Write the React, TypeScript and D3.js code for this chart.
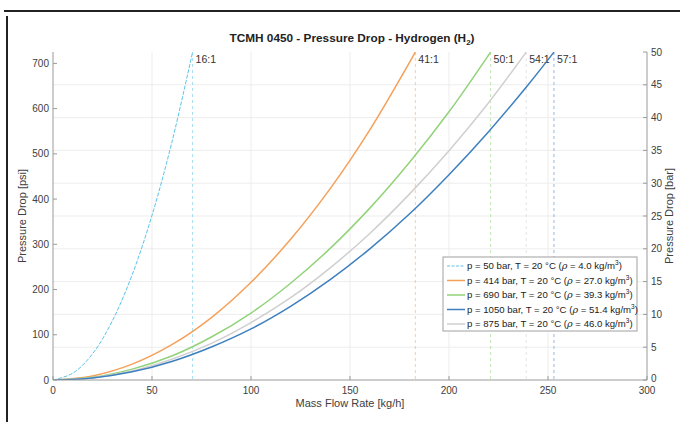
import React from 'react';
import * as d3 from 'd3';

// chart data
const flowTicks = [0, 50, 100, 150, 200, 250, 300];
const psiTicks = [0, 100, 200, 300, 400, 500, 600, 700];
const barTicks = [0, 5, 10, 15, 20, 25, 30, 35, 40, 45, 50];

const seriesNames = [
  'p = 50 bar, T = 20 °C',
  'p = 414 bar, T = 20 °C',
  'p = 690 bar, T = 20 °C',
  'p = 1050 bar, T = 20 °C',
  'p = 875 bar, T = 20 °C',
];
const densities = ['4.0', '27.0', '39.3', '51.4', '46.0'];
const seriesColors = ['#5cc3e8', '#f5a05a', '#92d27a', '#3d7fbf', '#cfcfcf'];
const ratioLabels = ['16:1', '41:1', '50:1', '57:1', '54:1'];
const maxFlows = [70.5, 183, 221, 253, 239];

// [mass flow kg/h, pressure drop psi]
const h2_50: [number, number][] = [[0, 0], [10, 15], [20, 58], [30, 131], [40, 233], [50, 364], [60, 525], [70.5, 725]];
const h2_414: [number, number][] = [[0, 0], [20, 9], [40, 35], [60, 78], [80, 138], [100, 216], [120, 311], [140, 423], [160, 553], [183, 725]];
const h2_690: [number, number][] = [[0, 0], [20, 6], [40, 24], [60, 53], [80, 95], [100, 148], [120, 214], [140, 291], [160, 380], [180, 481], [200, 593], [221, 725]];
const h2_1050: [number, number][] = [[0, 0], [20, 4.5], [40, 18], [60, 41], [80, 73], [100, 113], [120, 163], [140, 222], [160, 290], [180, 367], [200, 454], [220, 549], [240, 653], [253, 725]];
const h2_875: [number, number][] = [[0, 0], [20, 5], [40, 20], [60, 46], [80, 81], [100, 127], [120, 182], [140, 248], [160, 324], [180, 411], [200, 507], [220, 613], [239, 725]];
const seriesData = [h2_50, h2_414, h2_690, h2_1050, h2_875];
const drawOrder = [0, 1, 2, 4, 3];

const W = 680, H = 422;
const L = 53, R = 647, T = 52, B = 380;
const PSI_PER_BAR = 14.5038;

export default function App() {
  const x = d3.scaleLinear().domain([0, 300]).range([L, R]);
  const yBar = d3.scaleLinear().domain([0, 50]).range([B, T]);
  const yPsi = d3.scaleLinear().domain([0, 50 * PSI_PER_BAR]).range([B, T]);
  const line = d3.line<[number, number]>().x(d => x(d[0])).y(d => yPsi(d[1])).curve(d3.curveCatmullRom);

  const font = 'Liberation Sans, Arial, sans-serif';
  const txt = '#404040';
  const axisCol = '#9a9a9a';

  return (
    <svg width={W} height={H} style={{ position: 'absolute', left: 0, top: 0, background: '#fff' }} fontFamily={font}>
      {/* screenshot frame */}
      <line x1={4} x2={W} y1={11} y2={11} stroke="#222" strokeWidth={2} />
      <line x1={7} x2={7} y1={16} y2={H} stroke="#222" strokeWidth={2} />

      {/* grid */}
      {flowTicks.slice(1, -1).map(t => (
        <line key={'gx' + t} x1={x(t)} x2={x(t)} y1={T} y2={B} stroke="#ededed" strokeWidth={1} />
      ))}
      {barTicks.slice(1, -1).map(t => (
        <line key={'gy' + t} x1={L} x2={R} y1={yBar(t)} y2={yBar(t)} stroke="#ededed" strokeWidth={1} />
      ))}

      {/* ratio markers */}
      {maxFlows.map((f, i) => (
        <g key={'m' + i}>
          <line x1={x(f)} x2={x(f)} y1={T} y2={B} stroke={seriesColors[i]} strokeOpacity={0.55} strokeWidth={1} strokeDasharray="3,3" />
          <text x={x(f) + 3} y={T + 11} fontSize={10.5} fill="#333">{ratioLabels[i]}</text>
        </g>
      ))}

      {/* curves */}
      <g clipPath="url(#plotclip)">
        {drawOrder.map(i => (
          <path key={'s' + i} d={line(seriesData[i]) || ''} fill="none" stroke={seriesColors[i]}
            strokeWidth={i === 0 ? 1 : 1.5} strokeDasharray={i === 0 ? '4,1.5' : undefined} />
        ))}
      </g>
      <defs>
        <clipPath id="plotclip"><rect x={L} y={T - 1} width={R - L} height={B - T + 1} /></clipPath>
      </defs>

      {/* axes */}
      <line x1={L} x2={R} y1={B} y2={B} stroke={axisCol} />
      <line x1={L} x2={L} y1={T} y2={B} stroke={axisCol} />
      <line x1={R} x2={R} y1={T} y2={B} stroke={axisCol} />
      {flowTicks.map(t => (
        <g key={'xt' + t}>
          <line x1={x(t)} x2={x(t)} y1={B} y2={B - 4} stroke={axisCol} />
          <text x={x(t)} y={B + 14} fontSize={10} fill={txt} textAnchor="middle">{t}</text>
        </g>
      ))}
      {psiTicks.map(t => (
        <g key={'yl' + t}>
          <line x1={L} x2={L + 4} y1={yPsi(t)} y2={yPsi(t)} stroke={axisCol} />
          <text x={L - 4} y={yPsi(t) + 3.5} fontSize={10} fill={txt} textAnchor="end">{t}</text>
        </g>
      ))}
      {barTicks.map(t => (
        <g key={'yr' + t}>
          <line x1={R} x2={R - 4} y1={yBar(t)} y2={yBar(t)} stroke={axisCol} />
          <text x={R + 4} y={yBar(t) + (t === 0 ? 1.5 : 3.5)} fontSize={10} fill={txt}>{t}</text>
        </g>
      ))}

      {/* labels */}
      <text x={352} y={42} fontSize={11.8} fontWeight="bold" fill="#222" textAnchor="middle">
        TCMH 0450 - Pressure Drop - Hydrogen (H<tspan fontSize={8} dy={3}>2</tspan><tspan dy={-3}>)</tspan>
      </text>
      <text x={350} y={407} fontSize={11} fill={txt} textAnchor="middle">Mass Flow Rate [kg/h]</text>
      <text transform={`translate(26,${(T + B) / 2}) rotate(-90)`} fontSize={11} fill={txt} textAnchor="middle">Pressure Drop [psi]</text>
      <text transform={`translate(673,${(T + B) / 2}) rotate(-90)`} fontSize={11} fill={txt} textAnchor="middle">Pressure Drop [bar]</text>

      {/* legend */}
      <g>
        <rect x={443} y={257} width={194} height={74} fill="#fff" stroke="#a0a0a0" strokeWidth={1} />
        {seriesNames.map((n, i) => {
          const yy = 266 + i * 14.5;
          return (
            <g key={'lg' + i}>
              <line x1={447} x2={465} y1={yy} y2={yy} stroke={seriesColors[i]}
                strokeWidth={i === 0 ? 1 : 1.5} strokeDasharray={i === 0 ? '3,1.5' : undefined} />
              <text x={467} y={yy + 3.3} fontSize={9.6} fill="#222">
                {n} (<tspan fontStyle="italic" fontFamily="DejaVu Serif, serif">ρ</tspan> = {densities[i]} kg/m<tspan fontSize={6.5} dy={-4}>3</tspan><tspan dy={4}>)</tspan>
              </text>
            </g>
          );
        })}
      </g>
    </svg>
  );
}
